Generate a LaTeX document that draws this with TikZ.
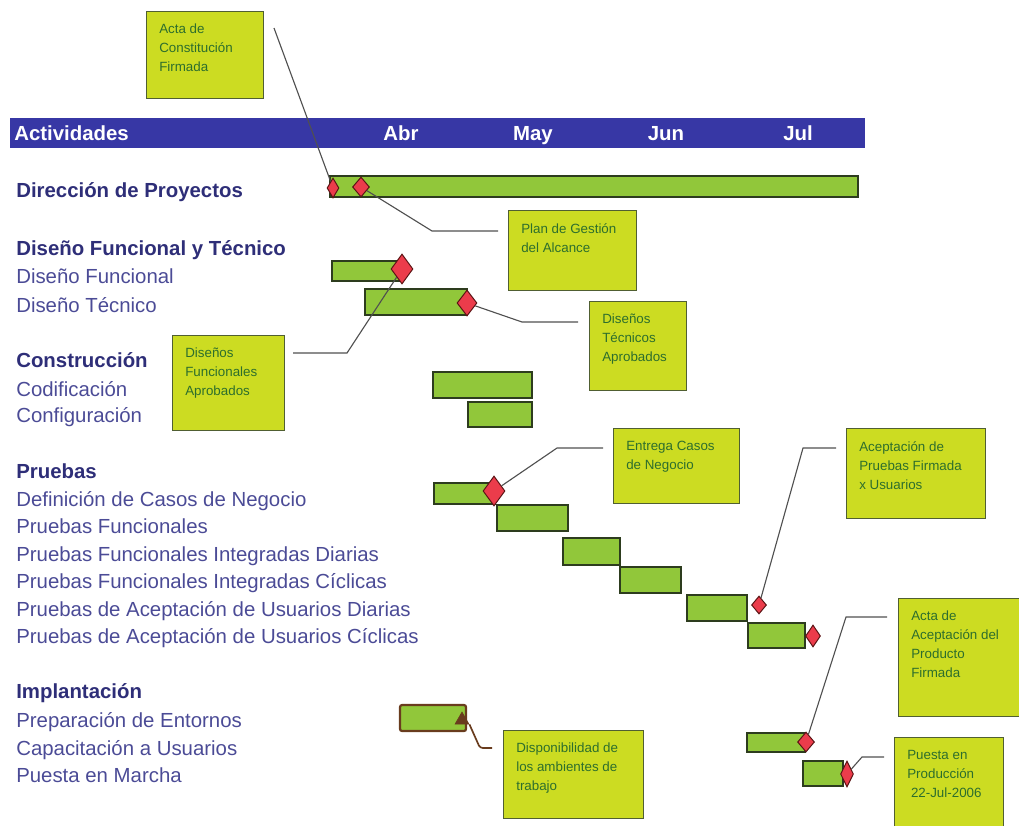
\documentclass[tikz,border=0pt]{standalone}
\usepackage{fontspec}
\setmainfont{Liberation Sans}
\usetikzlibrary{shapes.geometric}

\definecolor{headblue}{RGB}{55,55,165}
\definecolor{groupblue}{RGB}{46,46,120}
\definecolor{taskblue}{RGB}{75,75,150}
\definecolor{bargreen}{RGB}{145,199,58}
\definecolor{bardark}{RGB}{45,60,30}
\definecolor{milered}{RGB}{235,60,75}
\definecolor{miledark}{RGB}{90,20,20}
\definecolor{noteyellow}{RGB}{204,220,34}
\definecolor{notedark}{RGB}{80,95,50}
\definecolor{notegreen}{RGB}{45,110,45}
\definecolor{linkgray}{RGB}{80,80,80}
\definecolor{brownline}{RGB}{105,60,30}

\begin{document}
\begin{tikzpicture}[x=0.025cm, y=-0.025cm,
        bar/.style={draw=bardark, fill=bargreen, line width=0.8pt, inner sep=0pt},
        mile/.style={diamond, draw=miledark, fill=milered, line width=0.7pt, inner sep=0pt},
        note/.style={draw=notedark, fill=noteyellow, line width=0.8pt, inner sep=0pt, anchor=north west},
        notetext/.style={anchor=north west, inner sep=0pt, align=left, text=notegreen, font=\fontsize{9.5}{13.5}\selectfont},
        link/.style={draw=linkgray, line width=0.8pt},
        group/.style={anchor=base west, inner sep=0pt, text=groupblue, font=\fontsize{14.5}{17}\selectfont\bfseries},
        task/.style={anchor=base west, inner sep=0pt, text=taskblue, font=\fontsize{14.5}{17}\selectfont}]
        \useasboundingbox (0,0) rectangle (1019,825);

        % header
        \node[fill=headblue, inner sep=0pt, anchor=north west, minimum width=855*0.025cm, minimum height=30*0.025cm] (header) at (10,118) {};
        \node[anchor=base west, inner sep=0pt, text=white, font=\fontsize{14.5}{17}\selectfont\bfseries] (head_act) at (14,140) {Actividades};
        \foreach \m/\x in {Abr/401, May/533, Jun/666, Jul/798} {
            \node[anchor=base, inner sep=0pt, text=white, font=\fontsize{14.5}{17}\selectfont\bfseries] (head_\m) at (\x,140) {\m};
        }

        % activities
        \foreach \y/\t in {197/Dirección de Proyectos, 255/Diseño Funcional y Técnico, 367/Construcción, 478/Pruebas, 698/Implantación} {
            \node[group] (group_{\y}) at (16,\y) {\t};
        }
        \foreach \y/\t in {283/Diseño Funcional, 312/Diseño Técnico, 396/Codificación, 422/Configuración,
            506/Definición de Casos de Negocio, 533/Pruebas Funcionales, 561/Pruebas Funcionales Integradas Diarias,
            588/Pruebas Funcionales Integradas Cíclicas, 616/Pruebas de Aceptación de Usuarios Diarias,
            643/Pruebas de Aceptación de Usuarios Cíclicas, 727/Preparación de Entornos,
            755/Capacitación a Usuarios, 782/Puesta en Marcha} {
            \node[task] (task_{\y}) at (16,\y) {\t};
        }

        % bars
        \foreach \n/\xa/\ya/\xb/\yb in {dir/330/176/858/197, dfun/332/261/401/281, dtec/365/289/467/315,
            cod/433/372/532/398, conf/468/402/532/427, casos/434/483/495/504, pfun/497/505/568/531,
            pfid/563/538/620/565, pfic/620/567/681/593, paud/687/595/747/621, pauc/748/623/805/648,
            capa/747/733/805/752, puesta/803/761/843/786} {
            \node[bar, minimum width={(\xb-\xa)*0.025cm}, minimum height={(\yb-\ya)*0.025cm}] (bar_\n) at ({(\xa+\xb)/2},{(\ya+\yb)/2}) {};
        }
        \node[bar, draw=brownline, line width=1.6pt, rounded corners=1.5pt, minimum width=66*0.025cm, minimum height=26*0.025cm] (bar_prep) at (433,718) {};
        \node[regular polygon, regular polygon sides=3, draw=brownline, fill=brownline, inner sep=0pt, minimum size=16*0.025cm] (tri_prep) at (462,720) {};

        % milestones
        \foreach \n/\x/\y/\w/\h in {acta/333/188/12/20, plan/361/187/17/20, dfun/402/269/22/30, dtec/467/303/20/26,
            casos/494/491/22/30, paud/759/605/15/18, pauc/813/636/15/22, capa/806/742/17/20, puesta/847/774/13/26} {
            \node[mile, minimum width=\w*0.025cm, minimum height=\h*0.025cm] (ms_\n) at (\x,\y) {};
        }

        % notes
        \foreach \n/\x/\y/\w/\h/\t in {acta/146/11/117/87/Acta de\\Constitución\\Firmada,
            plan/508/210/128/80/Plan de Gestión\\del Alcance,
            dtec/589/301/97/89/Diseños\\Técnicos\\Aprobados,
            dfun/172/335/112/95/Diseños\\Funcionales\\Aprobados,
            casos/613/428/126/75/Entrega Casos\\de Negocio,
            prueb/846/428/139/90/Aceptación de\\Pruebas Firmada\\x Usuarios,
            prod/898/598/130/118/Acta de\\Aceptación del\\Producto\\Firmada,
            puesta/894/737/109/100/Puesta en\\Producción\\\ 22-Jul-2006,
            ambi/503/730/140/88/Disponibilidad de\\los ambientes de\\trabajo} {
            \node[note, minimum width=\w*0.025cm, minimum height=\h*0.025cm] (note_\n) at (\x,\y) {};
            \node[notetext] (text_\n) at ([shift={(13,13)}]note_\n.north west) {\t};
        }

        %% connection
        \coordinate (end_acta) at (274,28);
        \coordinate (end_plan) at (498,231);
        \coordinate (end_dtec) at (578,322);
        \coordinate (end_dfun) at (293,353);
        \coordinate (end_casos) at (603,448);
        \coordinate (end_prueb) at (836,448);
        \coordinate (end_prod) at (887,617);
        \coordinate (end_puesta) at (884,757);
        \coordinate (end_ambi) at (492,748);
        \draw[link] (end_acta) -- (ms_acta);
        \draw[link] (ms_plan) -- (432,231) -- (end_plan);
        \draw[link] (ms_dtec) -- (522,322) -- (end_dtec);
        \draw[link] (end_dfun) -- (347,353) -- (ms_dfun);
        \draw[link] (ms_casos) -- (557,448) -- (end_casos);
        \draw[link] (ms_paud) -- (803,448) -- (end_prueb);
        \draw[link] (ms_capa) -- (846,617) -- (end_prod);
        \draw[link] (ms_puesta) -- (862,757) -- (end_puesta);
        % environments
        \draw[brownline, line width=1.2pt, rounded corners=2pt] (tri_prep.corner 3) -- (480,748) -- (end_ambi);
    \end{tikzpicture}
\end{document}
